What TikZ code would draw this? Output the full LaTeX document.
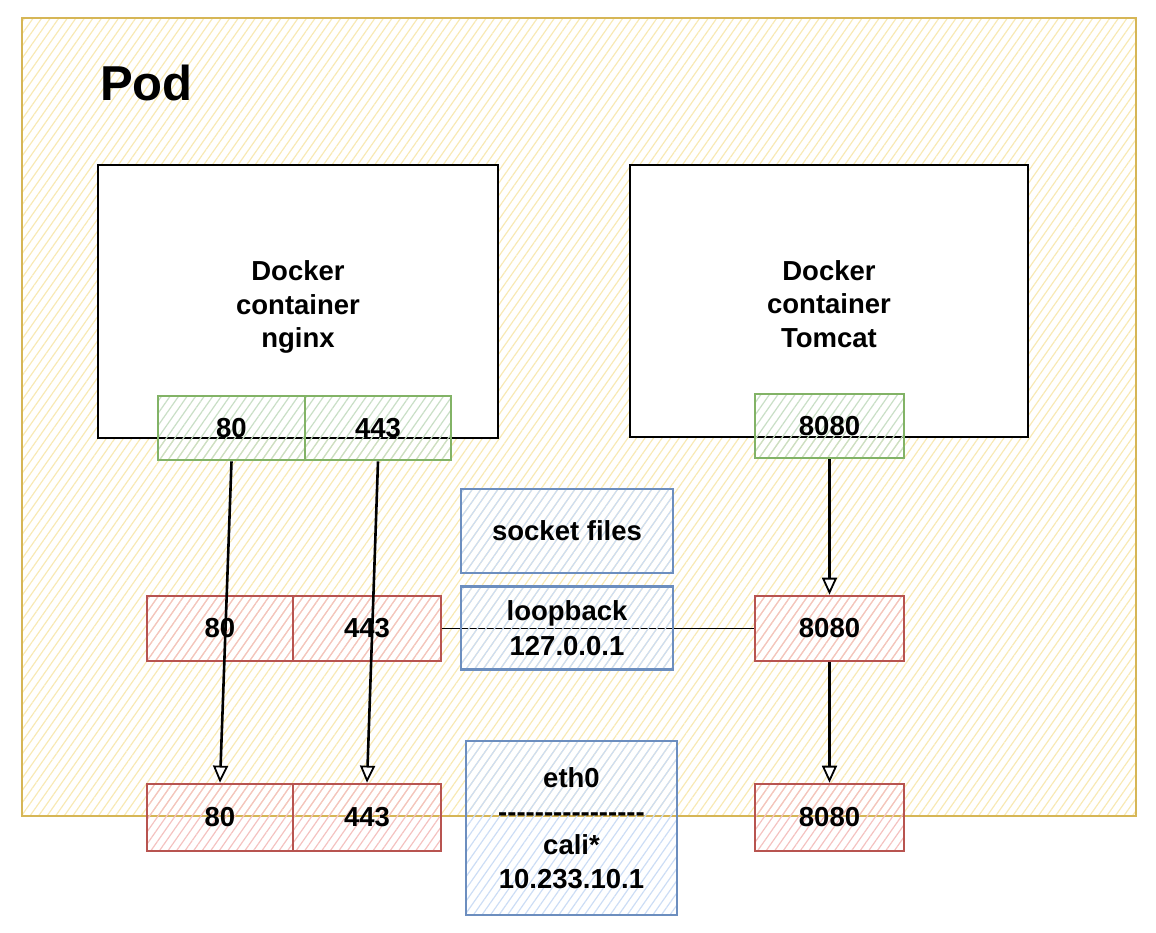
\documentclass[tikz,border=0pt]{standalone}
\usepackage{fontspec}
\setmainfont{Liberation Sans}[Ligatures=TeXOff]
\usetikzlibrary{patterns.meta,arrows.meta}
\definecolor{podline}{HTML}{D6B656}
\definecolor{podhatch}{HTML}{F8E9B4}
\definecolor{grnline}{HTML}{82B366}
\definecolor{grnhatch}{HTML}{C9DFC6}
\definecolor{redline}{HTML}{B85450}
\definecolor{redhatch}{HTML}{F4C2C0}
\definecolor{bluline}{HTML}{6C8EBF}
\definecolor{bluhatch}{HTML}{CCDDF5}
\tikzset{
  hatch/.style={pattern={Lines[angle=55,distance=7pt,line width=1.2pt]},pattern color=#1},
  bigtext/.style={font=\bfseries\fontsize{27.5}{33.5}\selectfont},
  podbox/.style={draw=podline,line width=2.5pt,hatch=podhatch},
  cbox/.style={draw=black,fill=white,line width=2.8pt,inner sep=0pt},
  ctext/.style={bigtext,align=center,inner sep=0pt},
  gport/.style={draw=grnline,line width=2.6pt,hatch=grnhatch,bigtext,inner sep=0pt},
  rport/.style={draw=redline,line width=2.6pt,hatch=redhatch,bigtext,inner sep=0pt},
  bbox/.style={draw=bluline,line width=2.6pt,hatch=bluhatch,bigtext,align=center,inner sep=0pt},
  flow/.style={draw=black,line width=2.6pt,-{Triangle[length=17pt,width=15pt,fill=white,line width=1.8pt]}},
  link/.style={draw=black,line width=1.6pt}
}
\begin{document}
\begin{tikzpicture}[x=1pt,y=-1pt]
\useasboundingbox (0,0) rectangle (1156,932);
% pod
\node[podbox,minimum width=1114pt,minimum height=798pt] (pod) at (579,417) {};
\node[anchor=base west,inner sep=0pt,font=\bfseries\fontsize{49}{55}\selectfont] (podlbl) at (100,100) {Pod};
% containers
\node[cbox,minimum width=400pt,minimum height=273pt] (nginx) at (298,301.5) {};
\node[ctext] (nginxlbl) at (298,307) {Docker\\container\\nginx};
\node[cbox,minimum width=398pt,minimum height=272pt] (tomcat) at (829,301) {};
\node[ctext] (tomcatlbl) at (829,304) {Docker\\container\\Tomcat};
% green ports
\node[gport,minimum width=147pt,minimum height=64pt] (g80) at (231.5,428) {80};
\node[gport,minimum width=146pt,minimum height=64pt] (g443) at (378,428) {443};
\node[gport,minimum width=149pt,minimum height=64pt] (g8080) at (829.5,426) {8080};
% red ports row 1
\node[rport,minimum width=146pt,minimum height=65pt] (r80a) at (220,628.5) {80};
\node[rport,minimum width=148pt,minimum height=65pt] (r443a) at (367,628.5) {443};
\node[rport,minimum width=149pt,minimum height=65pt] (r8080a) at (829.5,628.5) {8080};
% red ports row 2
\node[rport,minimum width=146pt,minimum height=67pt] (r80b) at (220,817.5) {80};
\node[rport,minimum width=148pt,minimum height=67pt] (r443b) at (367,817.5) {443};
\node[rport,minimum width=149pt,minimum height=67pt] (r8080b) at (829.5,817.5) {8080};
% blue boxes
\node[bbox,minimum width=212pt,minimum height=84pt] (sock) at (567,531) {socket files};
\draw[link] (r443a.east) -- (r8080a.west);
\node[bbox,minimum width=212pt,minimum height=83pt,font=\bfseries\fontsize{27.5}{35}\selectfont] (loop) at (567,628) {loopback\\127.0.0.1};
\node[bbox,minimum width=211pt,minimum height=174pt] (eth) at (571.5,828) {eth0\\----------------\\cali*\\10.233.10.1};
% arrows
\draw[flow] (g80.south) -- (r80b.north);
\draw[flow] (g443.south) -- (r443b.north);
\draw[flow] (g8080.south) -- (r8080a.north);
\draw[flow] (r8080a.south) -- (r8080b.north);
\end{tikzpicture}
\end{document}
